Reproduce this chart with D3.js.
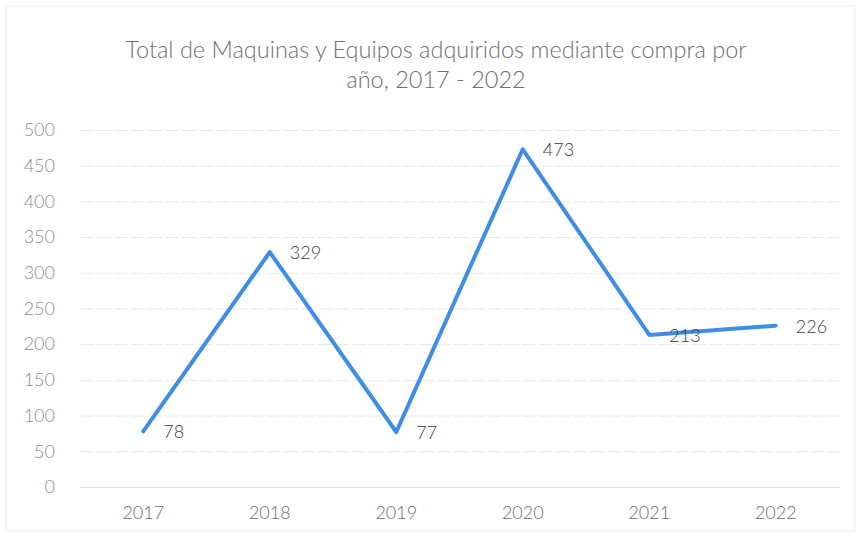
<!DOCTYPE html>
<html>
<head>
<meta charset="utf-8">
<script src="https://cdn.jsdelivr.net/npm/d3@7"></script>
<style>
  body { margin: 0; background: #fff; }
  text { font-family: Lato, "Open Sans", sans-serif; }
</style>
</head>
<body>
<svg width="861" height="537"></svg>
<script>
const years = ['2017', '2018', '2019', '2020', '2021', '2022'];
const totals = [78, 329, 77, 473, 213, 226];
const yTicks = [0, 50, 100, 150, 200, 250, 300, 350, 400, 450, 500];
const titleLines = ['Total de Maquinas y Equipos adquiridos mediante compra por', 'año, 2017 - 2022'];

const svg = d3.select('svg');
const margin = {top: 130, right: 22, bottom: 50, left: 80};
const width = +svg.attr('width') - margin.left - margin.right;
const height = +svg.attr('height') - margin.top - margin.bottom;

svg.append('rect')
  .attr('x', 6).attr('y', 6)
  .attr('width', 849).attr('height', 525)
  .attr('fill', 'none')
  .attr('stroke', '#efefef');

svg.append('g')
  .selectAll('text')
  .data(titleLines)
  .enter().append('text')
    .attr('x', 436)
    .attr('y', (d, i) => 58 + i * 30)
    .attr('text-anchor', 'middle')
    .attr('fill', '#707070')
    .attr('font-size', 23.5)
    .attr('font-weight', 300)
    .text(d => d);

const g = svg.append('g')
  .attr('transform', `translate(${margin.left},${margin.top})`);

const x = d3.scaleBand()
  .domain(years)
  .range([0, width]);

const y = d3.scaleLinear()
  .domain([0, 500])
  .range([height, 0]);

// grid + y labels
g.append('g')
  .call(d3.axisLeft(y)
    .tickValues(yTicks)
    .tickSize(-width)
    .tickPadding(25))
  .call(a => a.select('.domain').remove())
  .call(a => a.selectAll('line')
    .attr('stroke', '#e8e8e8')
    .attr('stroke-dasharray', '14,3'))
  .call(a => a.selectAll('text')
    .attr('fill', '#8e8e8e')
    .attr('font-size', 18)
    .attr('font-weight', 300)
    .style('font-family', 'Lato, sans-serif'));

g.append('g')
  .attr('transform', `translate(0,${height})`)
  .call(d3.axisBottom(x).tickSize(0).tickPadding(19))
  .call(a => a.select('.domain').attr('stroke', '#e0e0e0'))
  .call(a => a.selectAll('text')
    .attr('fill', '#6b6b6b')
    .attr('font-size', 18)
    .attr('font-weight', 300)
    .style('font-family', 'Lato, sans-serif'));

const data = years.map((yr, i) => ({year: yr, value: totals[i]}));

const line = d3.line()
  .x(d => x(d.year) + x.bandwidth() / 2)
  .y(d => y(d.value));

g.append('path')
  .datum(data)
  .attr('fill', 'none')
  .attr('stroke', '#3f8ee6')
  .attr('stroke-width', 4)
  .attr('stroke-linejoin', 'round')
  .attr('stroke-linecap', 'round')
  .attr('d', line);

g.append('g')
  .selectAll('text')
  .data(data)
  .enter().append('text')
    .attr('x', d => x(d.year) + x.bandwidth() / 2 + 20)
    .attr('y', d => y(d.value) + 7)
    .attr('fill', '#3a3a3a')
    .attr('font-size', 18)
    .attr('font-weight', 300)
    .text(d => d.value);
</script>
</body>
</html>
